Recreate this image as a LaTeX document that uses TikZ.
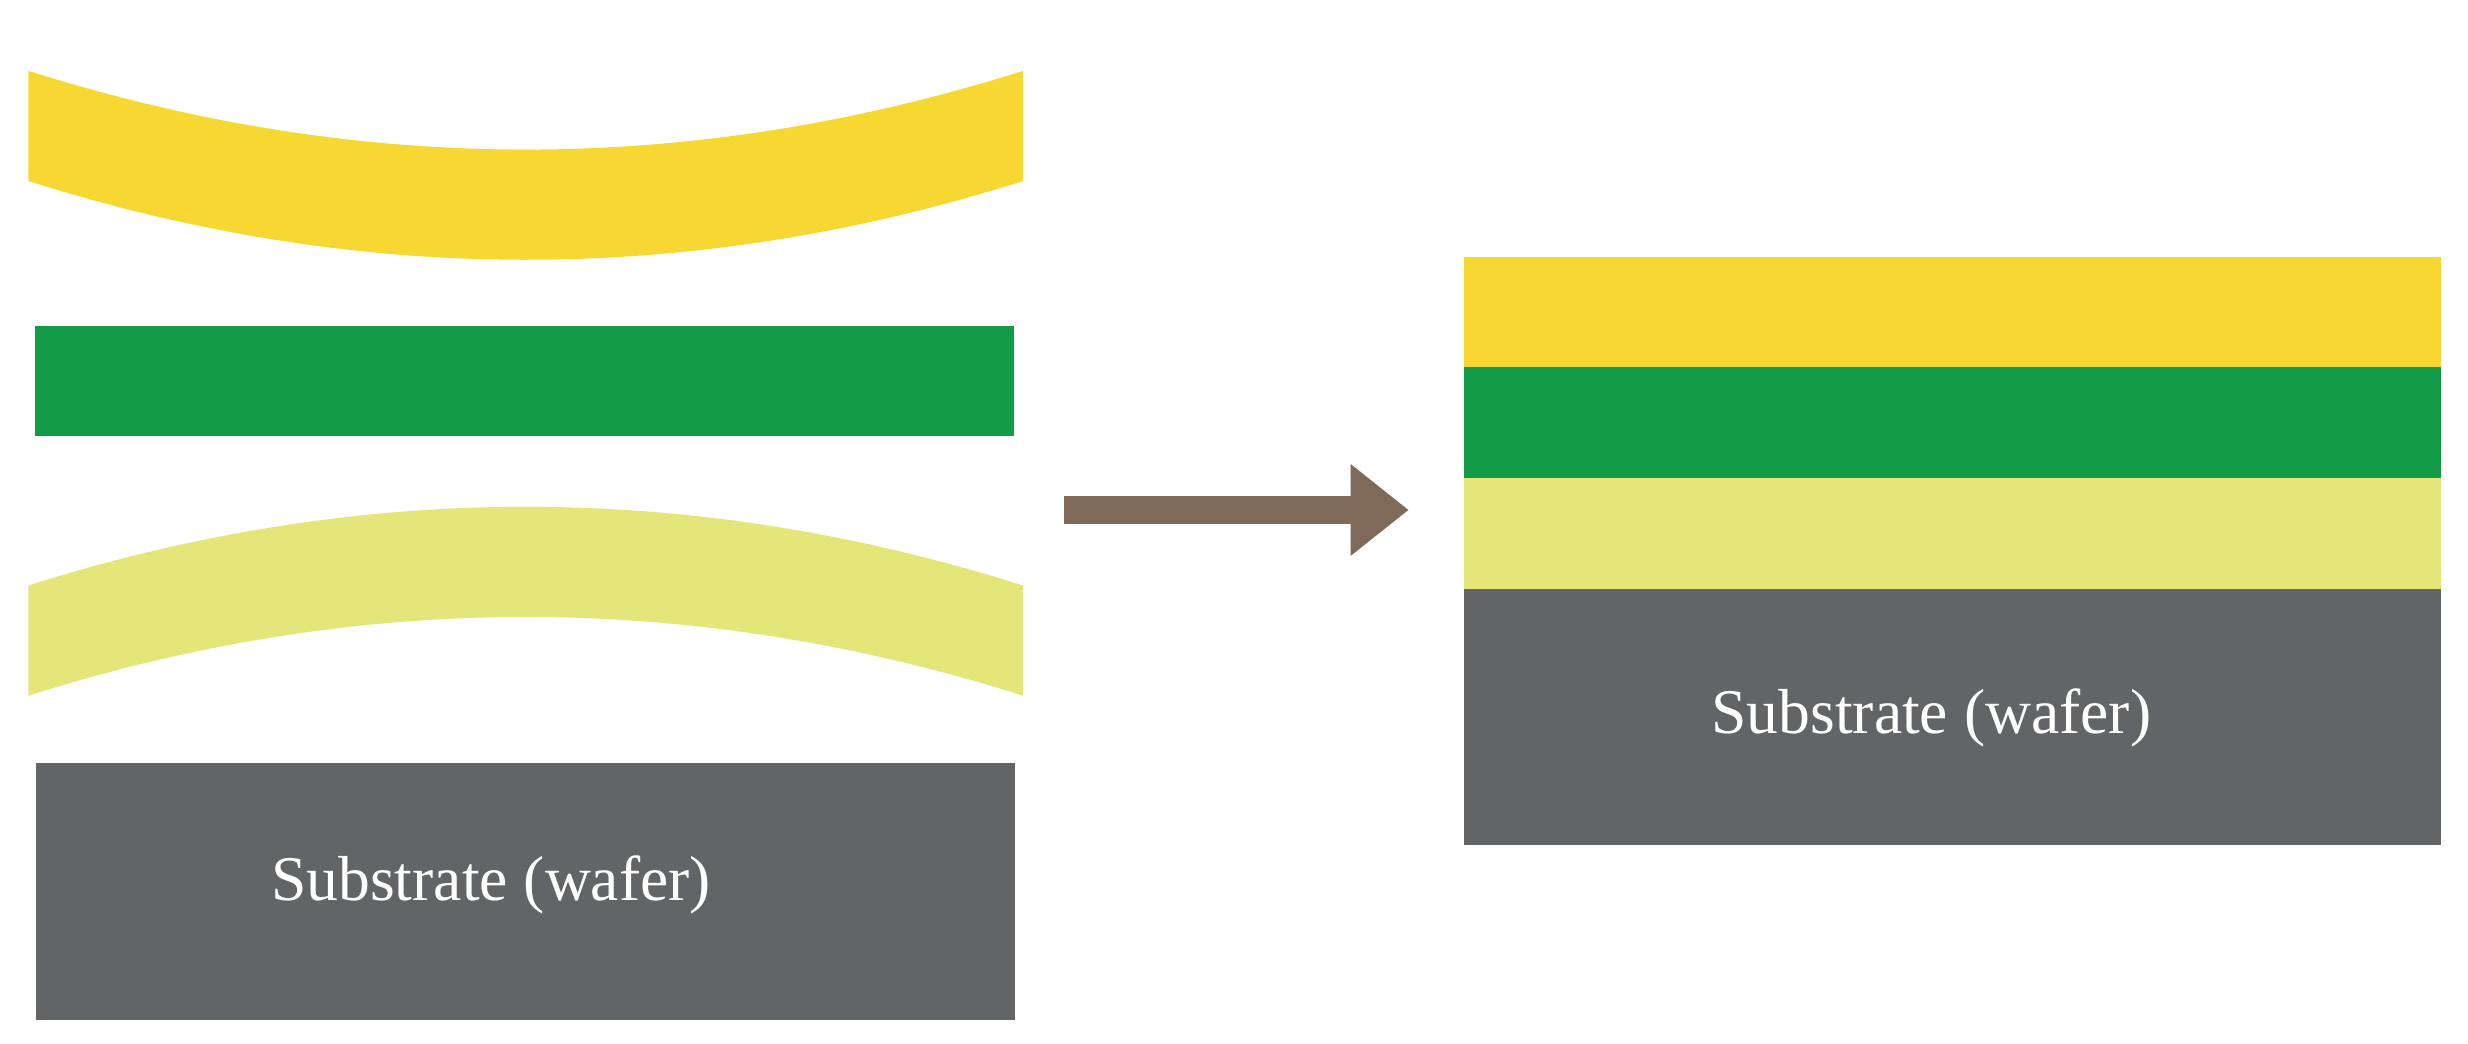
\documentclass[tikz,border=0pt]{standalone}
\usepackage{fontspec}
\setmainfont{Liberation Serif}
\usetikzlibrary{arrows.meta}
\definecolor{yel}{HTML}{F7D731}
\definecolor{grn}{HTML}{149B48}
\definecolor{lyel}{HTML}{E5E67A}
\definecolor{gry}{HTML}{636466}
\definecolor{brn}{HTML}{7F6A5A}
\begin{document}
\begin{tikzpicture}[x=0.02cm,y=-0.02cm,
  lbl/.style={text=white,font=\fontsize{23}{26}\selectfont}]
\useasboundingbox[fill=white] (0,0) rectangle (1568,663);
% left side
\fill[yel] (18,45) .. controls (228.7,111.7) and (439.3,111.7) .. (650,45) -- (650,115)
  .. controls (439.3,181.7) and (228.7,181.7) .. (18,115) -- cycle;
\fill[grn] (22,207) rectangle (644,277);
\fill[lyel] (18,372) .. controls (228.7,305.3) and (439.3,305.3) .. (650,372) -- (650,442)
  .. controls (439.3,375.3) and (228.7,375.3) .. (18,442) -- cycle;
\fill[gry] (23,485) rectangle (645,648);
\node[lbl] (s1) at (312,562) {Substrate (wafer)};
% arrow
\coordinate (a1) at (676,324);
\coordinate (a2) at (895,324);
\draw[brn,line width=0.36cm,-{Triangle[length=0.74cm,width=1.12cm]}] (a1) -- (a2);
% right stack
\fill[yel] (930,163) rectangle (1551,233);
\fill[grn] (930,233) rectangle (1551,304);
\fill[lyel] (930,304) rectangle (1551,374);
\fill[gry] (930,374) rectangle (1551,537);
\node[lbl] (s2) at (1227,456) {Substrate (wafer)};
\end{tikzpicture}
\end{document}
